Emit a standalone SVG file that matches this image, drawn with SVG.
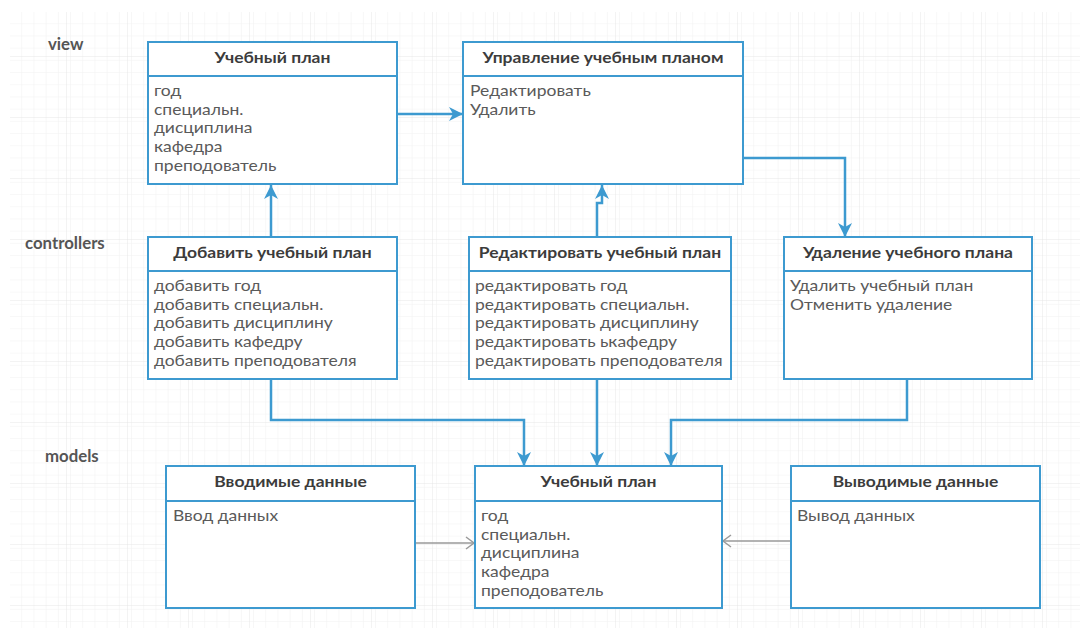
<svg xmlns="http://www.w3.org/2000/svg" width="1089" height="635" viewBox="0 0 1089 635">
<style>
.box{fill:#fff;stroke:#3d9ad0;stroke-width:2}
.div{stroke:#3d9ad0;stroke-width:2}
.t{font-family:Lato,"Open Sans","Liberation Sans",sans-serif;font-size:15.5px;font-weight:bold;fill:#3c3c3c;text-anchor:middle}
.i{font-family:Lato,"Open Sans","Liberation Sans",sans-serif;font-size:15.5px;fill:#5a5a5a}
.lbl{font-family:Lato,"Open Sans","Liberation Sans",sans-serif;font-size:16.8px;font-weight:bold;fill:#555}
.c{fill:none;stroke:#3d9ad0;stroke-width:2.5}
.g{fill:none;stroke:#9a9a9a;stroke-width:1.5}
</style>
<defs>
<pattern id="minor" width="12.2" height="12.2" patternUnits="userSpaceOnUse" x="10" y="12">
<path d="M12.2,0 V12.2 M0,12.2 H12.2" fill="none" stroke="#f1f1f1" stroke-width="1"/>
</pattern>
<pattern id="major" width="61" height="61" patternUnits="userSpaceOnUse" x="6" y="-4">
<path d="M61,0 V61 M0,61 H61" fill="none" stroke="#e6e6e6" stroke-width="1"/>
</pattern>
<marker id="af" viewBox="0 0 16 16" markerWidth="16" markerHeight="16" refX="15" refY="8" orient="auto" markerUnits="userSpaceOnUse">
<path d="M1,1 L15,8 L1,15 L5,8 z" fill="#3d9ad0"/>
</marker>
<marker id="ao" viewBox="0 0 14 14" markerWidth="14" markerHeight="14" refX="12" refY="7" orient="auto" markerUnits="userSpaceOnUse">
<path d="M4,1 L12,7 L4,13" fill="none" stroke="#9a9a9a" stroke-width="1.5"/>
</marker>
</defs>
<rect width="1089" height="635" fill="#fff"/>
<rect x="10" y="12" width="1070" height="616" fill="url(#minor)"/>
<rect x="10" y="12" width="1070" height="616" fill="url(#major)"/>

<text class="lbl" x="48" y="50">view</text>
<text class="lbl" x="25" y="249">controllers</text>
<text class="lbl" x="45" y="462">models</text>

<g id="connectors">
<path class="c" d="M397,114 H463" marker-end="url(#af)"/>
<path class="c" d="M743,158 H845 V237" marker-end="url(#af)"/>
<path class="c" d="M271,237 V185" marker-end="url(#af)"/>
<path class="c" d="M597,237 V203 H602 V185" marker-end="url(#af)"/>
<path class="c" d="M271,379 V420 H524 V466" marker-end="url(#af)"/>
<path class="c" d="M597,379 V466" marker-end="url(#af)"/>
<path class="c" d="M907,379 V420 H671 V466" marker-end="url(#af)"/>
<path class="g" d="M415,543 H474" marker-end="url(#ao)"/>
<path class="g" d="M791,541 H723" marker-end="url(#ao)"/>
</g>

<g id="view-plan">
<rect class="box" x="148" y="42" width="249" height="142"/>
<line class="div" x1="148" y1="76" x2="397" y2="76"/>
<text class="t" transform="translate(272.5,63) scale(1.13,1)">Учебный план</text>
<g transform="translate(154,96) scale(1.13,1)">
<text class="i" y="0">год</text>
<text class="i" y="18.75">специальн.</text>
<text class="i" y="37.5">дисциплина</text>
<text class="i" y="56.25">кафедра</text>
<text class="i" y="75">преподователь</text>
</g>
</g>

<g id="view-manage">
<rect class="box" x="463" y="42" width="280" height="142"/>
<line class="div" x1="463" y1="76" x2="743" y2="76"/>
<text class="t" transform="translate(603,63) scale(1.13,1)">Управление учебным планом</text>
<g transform="translate(470,96) scale(1.13,1)">
<text class="i" y="0">Редактировать</text>
<text class="i" y="18.75">Удалить</text>
</g>
</g>

<g id="ctrl-add">
<rect class="box" x="148" y="237" width="249" height="142"/>
<line class="div" x1="148" y1="271" x2="397" y2="271"/>
<text class="t" transform="translate(272.5,258) scale(1.13,1)">Добавить учебный план</text>
<g transform="translate(154,291) scale(1.13,1)">
<text class="i" y="0">добавить год</text>
<text class="i" y="18.75">добавить специальн.</text>
<text class="i" y="37.5">добавить дисциплину</text>
<text class="i" y="56.25">добавить кафедру</text>
<text class="i" y="75">добавить преподователя</text>
</g>
</g>

<g id="ctrl-edit">
<rect class="box" x="469" y="237" width="262" height="142"/>
<line class="div" x1="469" y1="271" x2="731" y2="271"/>
<text class="t" transform="translate(600,258) scale(1.13,1)">Редактировать учебный план</text>
<g transform="translate(475,291) scale(1.13,1)">
<text class="i" y="0">редактировать год</text>
<text class="i" y="18.75">редактировать специальн.</text>
<text class="i" y="37.5">редактировать дисциплину</text>
<text class="i" y="56.25">редактировать ькафедру</text>
<text class="i" y="75">редактировать преподователя</text>
</g>
</g>

<g id="ctrl-delete">
<rect class="box" x="784" y="237" width="248" height="142"/>
<line class="div" x1="784" y1="271" x2="1032" y2="271"/>
<text class="t" transform="translate(908,258) scale(1.13,1)">Удаление учебного плана</text>
<g transform="translate(790,291) scale(1.13,1)">
<text class="i" y="0">Удалить учебный план</text>
<text class="i" y="18.75">Отменить удаление</text>
</g>
</g>

<g id="model-input">
<rect class="box" x="166" y="466" width="249" height="142"/>
<line class="div" x1="166" y1="501" x2="415" y2="501"/>
<text class="t" transform="translate(290.5,487) scale(1.13,1)">Вводимые данные</text>
<g transform="translate(173,521) scale(1.13,1)">
<text class="i" y="0">Ввод данных</text>
</g>
</g>

<g id="model-plan">
<rect class="box" x="475" y="466" width="247" height="142"/>
<line class="div" x1="475" y1="501" x2="722" y2="501"/>
<text class="t" transform="translate(598.5,487) scale(1.13,1)">Учебный план</text>
<g transform="translate(481,521) scale(1.13,1)">
<text class="i" y="0">год</text>
<text class="i" y="18.75">специальн.</text>
<text class="i" y="37.5">дисциплина</text>
<text class="i" y="56.25">кафедра</text>
<text class="i" y="75">преподователь</text>
</g>
</g>

<g id="model-output">
<rect class="box" x="791" y="466" width="249" height="142"/>
<line class="div" x1="791" y1="501" x2="1040" y2="501"/>
<text class="t" transform="translate(915.5,487) scale(1.13,1)">Выводимые данные</text>
<g transform="translate(797,521) scale(1.13,1)">
<text class="i" y="0">Вывод данных</text>
</g>
</g>
</svg>
